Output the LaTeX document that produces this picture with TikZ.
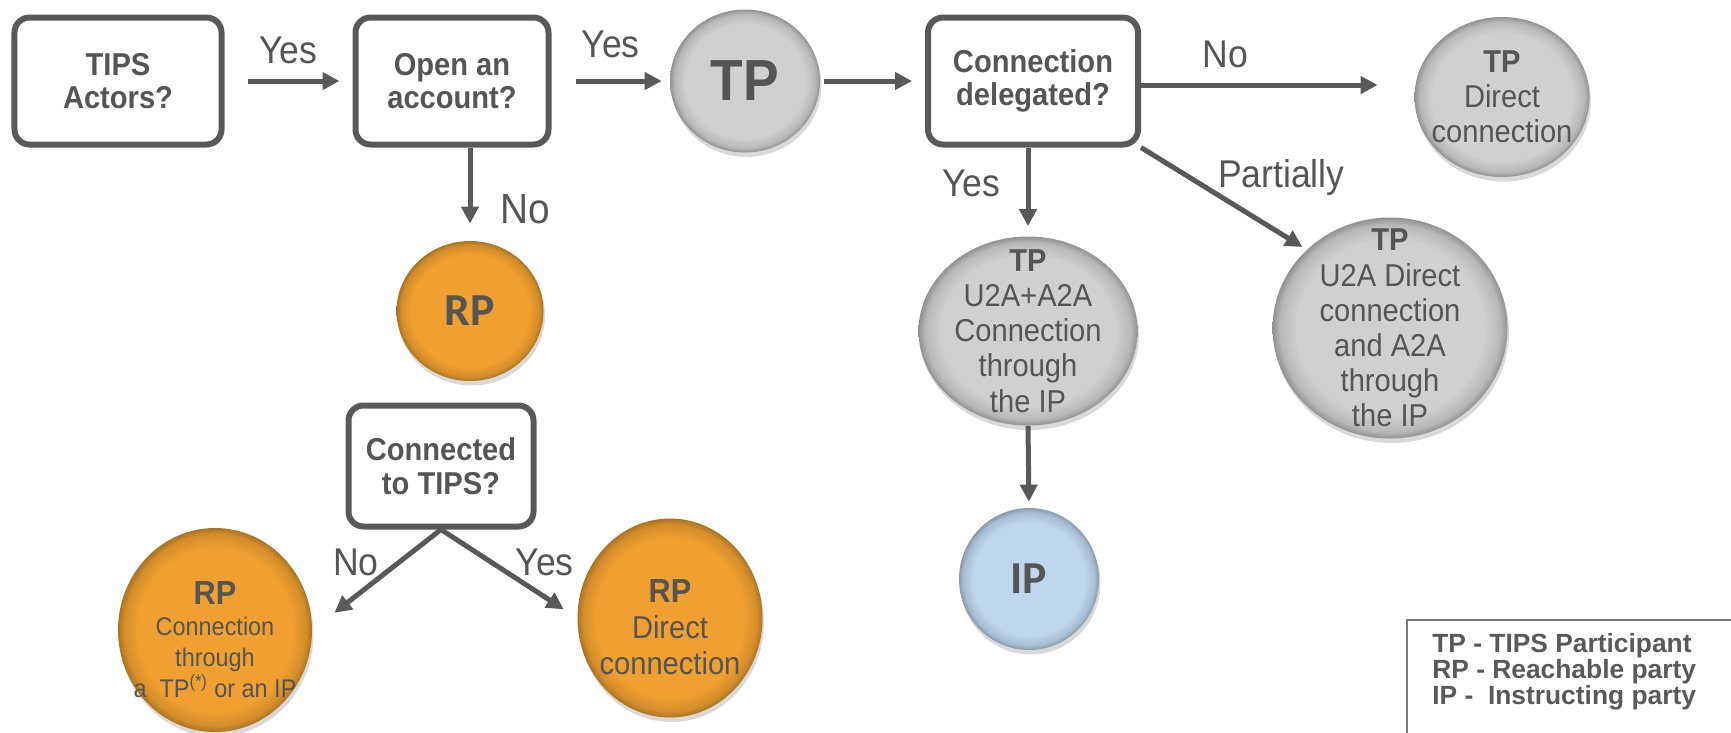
\documentclass[tikz,border=0pt]{standalone}
\usepackage{fontspec}
\setmainfont{Liberation Sans}
\newfontfamily\narrowfont{Liberation Sans}[FakeStretch=0.92]
\newfontfamily\calfont{Carlito}
\usepackage{xcolor}
\definecolor{cLine}{HTML}{595959}
\definecolor{cText}{HTML}{555555}
\definecolor{cBall}{HTML}{D0D0D0}
\definecolor{cRP}{HTML}{F0A030}
\definecolor{cIP}{HTML}{BDD7EE}
\usepackage{tikz}
\usetikzlibrary{positioning,arrows.meta,shapes.geometric,shadows}
% flat face with a darker bevelled rim
\pgfdeclareradialshading{ball-gray}{\pgfpoint{0bp}{0bp}}{color(0bp)=(cBall);
  color(20bp)=(cBall); color(23.5bp)=(cBall!88!black); color(25bp)=(cBall!70!black);
  color(50bp)=(cBall!70!black)}
\pgfdeclareradialshading{ball-orange}{\pgfpoint{0bp}{0bp}}{color(0bp)=(cRP);
  color(20bp)=(cRP); color(23.5bp)=(cRP!88!black); color(25bp)=(cRP!72!black);
  color(50bp)=(cRP!72!black)}
\pgfdeclareradialshading{ball-blue}{\pgfpoint{0bp}{0bp}}{color(0bp)=(cIP);
  color(20bp)=(cIP); color(23.5bp)=(cIP!88!black); color(25bp)=(cIP!72!black);
  color(50bp)=(cIP!72!black)}
\tikzset{
  node-ask/.style={draw=cLine,line width=1.2mm,rounded corners=3mm,fill=white,
    minimum height=25.4mm,align=center,text=cText,
    font=\narrowfont\bfseries\fontsize{18}{19}\selectfont},
  % negative inner sep: the ellipse keeps its minimum size, text may touch the rim
  node-ball/.style={ellipse,inner sep=-12mm,align=center,text=cText,
    drop shadow={opacity=0.3,shadow xshift=0.3mm,shadow yshift=-0.9mm},
    font=\narrowfont\fontsize{18}{20}\selectfont},
  node-tp/.style={node-ball,shading=ball-gray},
  node-rp/.style={node-ball,shading=ball-orange},
  node-ip/.style={node-ball,shading=ball-blue},
  big-tag/.style={font=\calfont\bfseries\fontsize{26}{30}\selectfont},
  arrow/.style={-{Triangle[length=3.4mm,width=3.4mm]},line width=1mm,draw=cLine},
  arrow-label/.style={text=cText,inner sep=0pt,
    font=\narrowfont\fontsize{22}{24}\selectfont},
  legend-text/.style={align=left,text=cLine,inner sep=0pt,
    font=\bfseries\fontsize{15}{14.8}\selectfont},
}

\begin{document}
\begin{tikzpicture}[x=0.2mm,y=-0.2mm]
  \clip (0,0) rectangle (1731,732);
  % decisions
  \node[node-ask,minimum width=41.4mm] (actors) at (118,81) {TIPS\\Actors?};
  \node[node-ask,minimum width=38.6mm] (account) at (452,81) {Open an\\account?};
  \node[node-ask,minimum width=42mm] (delegated) at (1033,81) {Connection\\delegated?};
  \node[node-ask,minimum width=37mm,minimum height=24.2mm] (connected) at (441,466) {Connected\\to TIPS?};
  % participants
  \node[node-tp,minimum width=30mm,minimum height=28.6mm,
    font=\narrowfont\bfseries\fontsize{33}{36}\selectfont] (tp) at (745,81) {TP};
  \node[node-tp,minimum width=35mm,minimum height=32mm] (tp-direct) at (1502,97)
    {\textbf{TP}\\Direct\\connection};
  \node[node-tp,minimum width=43.8mm,minimum height=37.8mm] (tp-via) at (1028,331)
    {\textbf{TP}\\U2A+A2A\\Connection\\through\\the IP};
  \node[node-tp,minimum width=47mm,minimum height=44.2mm] (tp-mixed) at (1390,328)
    {\textbf{TP}\\U2A Direct\\connection\\and A2A\\through\\the IP};
  \node[node-ip,big-tag,minimum width=28mm,minimum height=28.4mm] (ip) at (1029,579) {IP};
  \node[node-rp,big-tag,minimum width=29.4mm,minimum height=28mm] (rp) at (470,311) {RP};
  \node[node-rp,minimum width=38.8mm,minimum height=40.8mm,
    font=\narrowfont\fontsize{14.5}{17.5}\selectfont] (rp-via) at (215,630)
    {{\fontsize{19}{20}\selectfont\bfseries\rule{0pt}{24pt}RP}\\Connection\\through\\a\ \ TP\textsuperscript{(*)} or an IP};
  \node[node-rp,minimum width=37mm,minimum height=39.8mm,
    font=\narrowfont\fontsize{18}{20.5}\selectfont] (rp-direct) at (670,618)
    {{\fontsize{19}{20}\selectfont\bfseries\rule{0pt}{24pt}RP}\\Direct\\connection};
  % flow
  \draw[arrow,shorten <=4.6mm,shorten >=2.6mm] (actors) -- (account)
    node[midway,above=3mm,arrow-label] {Yes};
  \draw[arrow,shorten <=4.8mm,shorten >=1.6mm] (account) -- (tp)
    node[midway,above=4.2mm,arrow-label] {Yes};
  \draw[arrow,shorten <=0.8mm,shorten >=2.6mm] (tp) -- (delegated);
  \draw[arrow,shorten >=7.3mm] ([yshift=-0.8mm]delegated.east)
    -- ([yshift=-0.8mm]delegated.east -| tp-direct.west)
    node[pos=0.31,above=3mm,arrow-label] {No};
  \draw[arrow,shorten >=3.4mm] (account.south -| rp) -- (rp.north)
    node[pos=0.66,right=5.6mm,arrow-label,font=\narrowfont\fontsize{24}{26}\selectfont] {No};
  \draw[arrow,shorten >=2mm] (delegated.south -| tp-via) -- (tp-via.north)
    node[pos=0.4,left=5mm,arrow-label] {Yes};
  \draw[arrow,shorten >=1mm] (delegated.south east) -- (tp-mixed.north west)
    node[pos=0.45,anchor=south west,yshift=-1mm,arrow-label] {Partially};
  \draw[arrow,shorten >=1.2mm] (tp-via.south) -- (ip.north);
  \draw[arrow,shorten >=5.6mm] (connected.south) -- (rp-via.east)
    node[pos=0.33,left=3.5mm,arrow-label] {No};
  \draw[arrow,shorten >=3.2mm] (connected.south) -- (rp-direct.west)
    node[pos=0.375,right=4.2mm,arrow-label] {Yes};
  % legend
  \node[legend-text,anchor=north west] (legend) at (1432,633)
    {TP - TIPS Participant\\RP - Reachable party\\IP -\ \ Instructing party};
  \draw[cLine!80,line width=0.35mm] (1407,760) |- (1760,620);
\end{tikzpicture}
\end{document}
